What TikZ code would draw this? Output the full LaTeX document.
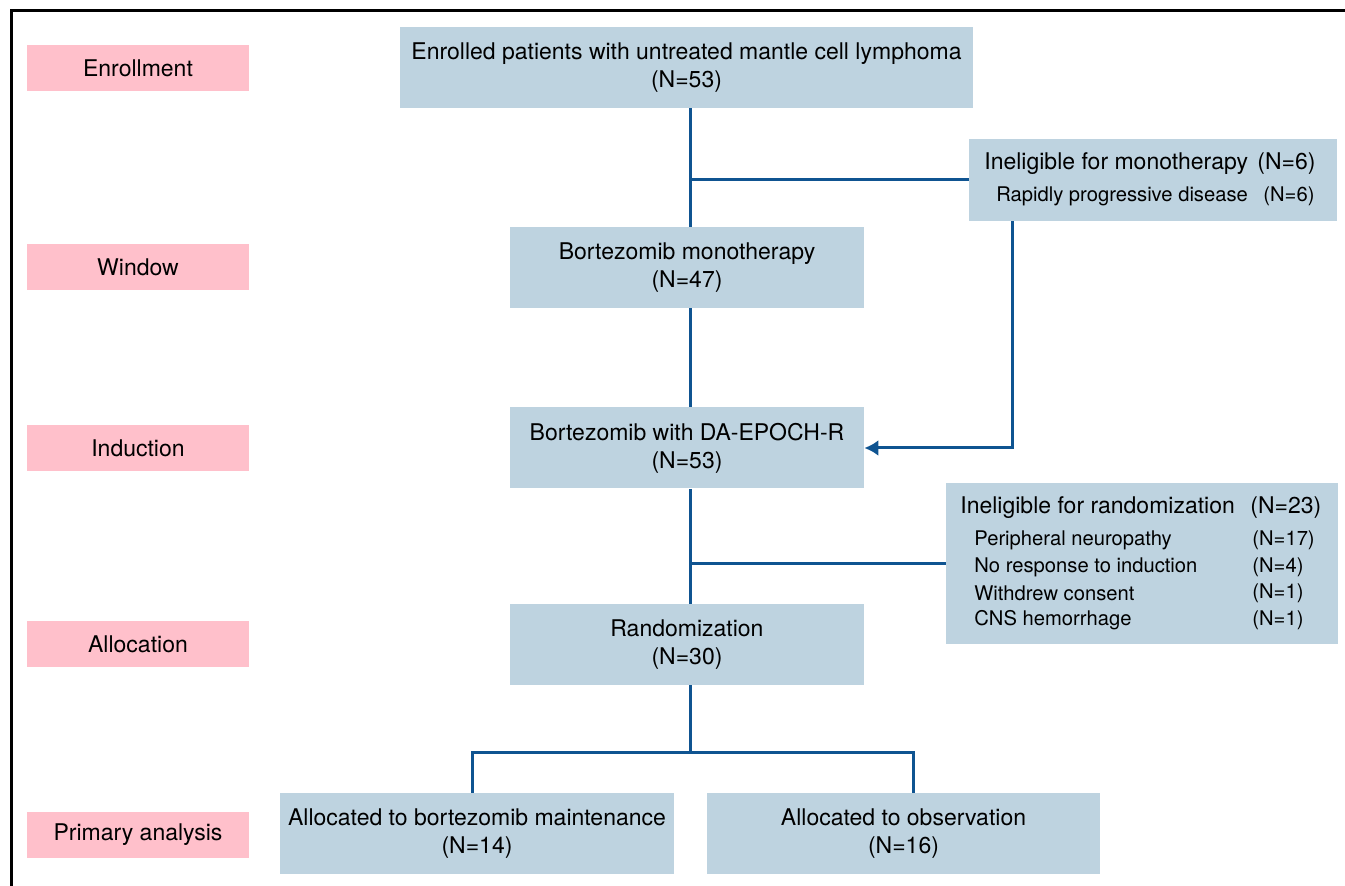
\documentclass[tikz,border=0pt]{standalone}
\usepackage{fontspec}
\setmainfont{TeX Gyre Heros}
\usetikzlibrary{arrows.meta}

\definecolor{boxblue}{HTML}{BED3E0}
\definecolor{stagepink}{HTML}{FFC0CB}
\definecolor{linkblue}{HTML}{0F5491}

\tikzset{
  stage/.style={fill=stagepink, minimum width=111pt, minimum height=23pt,
    inner sep=0pt, font=\fontsize{11.5}{14}\selectfont},
  box/.style={fill=boxblue, align=center, inner sep=0pt,
    minimum height=40.5pt, font=\fontsize{11.5}{14}\selectfont},
  link/.style={draw=linkblue, line width=1.5pt},
  head/.style={anchor=west, inner sep=0pt, font=\fontsize{11.5}{13}\selectfont},
  item/.style={anchor=west, inner sep=0pt, font=\fontsize{10.1}{11}\selectfont},
}

\begin{document}
\begin{tikzpicture}[x=0.5pt,y=-0.5pt]
	\useasboundingbox (0,0) rectangle (1345,886);
	\draw[line width=1.5pt] (11,886) -- (11,11) -- (1345,11);
	% stages on the left
	\node[stage] (senroll) at (138,68) {Enrollment};
	\node[stage] (swindow) at (138,267) {Window};
	\node[stage] (sinduct) at (138,448) {Induction};
	\node[stage] (salloc) at (138,644) {Allocation};
	\node[stage] (sprimary) at (138,835) {Primary analysis};
	% main flow
	\node[box, minimum width=286.5pt] (enroll) at (686.5,67.5) {Enrolled patients with untreated mantle cell lymphoma\\(N=53)};
	\node[box, minimum width=177pt] (mono) at (687,267.5) {Bortezomib monotherapy\\(N=47)};
	\node[box, minimum width=177pt] (induct) at (687,448) {Bortezomib with DA-EPOCH-R\\(N=53)};
	\node[box, minimum width=177pt] (random) at (687,644.5) {Randomization\\(N=30)};
	\node[box, minimum width=197pt] (maint) at (477,833.5) {Allocated to bortezomib maintenance\\(N=14)};
	\node[box, minimum width=196.5pt] (observ) at (903.5,833.5) {Allocated to observation\\(N=16)};
	% exclusions
	\node[box, minimum width=184pt, minimum height=41pt] (inmono) at (1153,180) {};
	\node[head] (inmonoa) at (984,164) {Ineligible for monotherapy};
	\node[head] (inmonob) at (1257,164) {(N=6)};
	\node[item] (inmonoc) at (996,196) {Rapidly progressive disease};
	\node[item] (inmonod) at (1263,196) {(N=6)};
	\node[box, minimum width=196pt, minimum height=80.5pt] (inrand) at (1142,563.5) {};
	\node[head] (inranda) at (960,508) {Ineligible for randomization};
	\node[head] (inrandb) at (1250,508) {(N=23)};
	\node[item] (neuro) at (974,540) {Peripheral neuropathy};
	\node[item] (neuron) at (1252,540) {(N=17)};
	\node[item] (noresp) at (974,567) {No response to induction};
	\node[item] (norespn) at (1252,567) {(N=4)};
	\node[item] (withdr) at (974,593) {Withdrew consent};
	\node[item] (withdrn) at (1252,593) {(N=1)};
	\node[item] (cns) at (974,620) {CNS hemorrhage};
	\node[item] (cnsn) at (1252,620) {(N=1)};
	% connectors
	\coordinate (spine) at (690,0);
	\coordinate (drop) at (1012,0);
	\coordinate (split) at (690,753);
	\coordinate (lbranch) at (472,753);
	\coordinate (rbranch) at (913,753);
	\draw[link] (enroll.south -| spine) -- (mono.north -| spine);
	\draw[link] (spine |- inmono.west) -- (inmono.west);
	\draw[link] (mono.south -| spine) -- (induct.north -| spine);
	\draw[link,-{Latex[length=7pt,width=8pt]}] (inmono.south -| drop) |- (induct.east);
	\draw[link] (induct.south -| spine) -- (random.north -| spine);
	\draw[link] (spine |- inrand.west) -- (inrand.west);
	\draw[link] (random.south -| spine) -- (split);
	\draw[link] (maint.north -| lbranch) -- (lbranch) -- (rbranch) -- (observ.north -| rbranch);
\end{tikzpicture}
\end{document}
